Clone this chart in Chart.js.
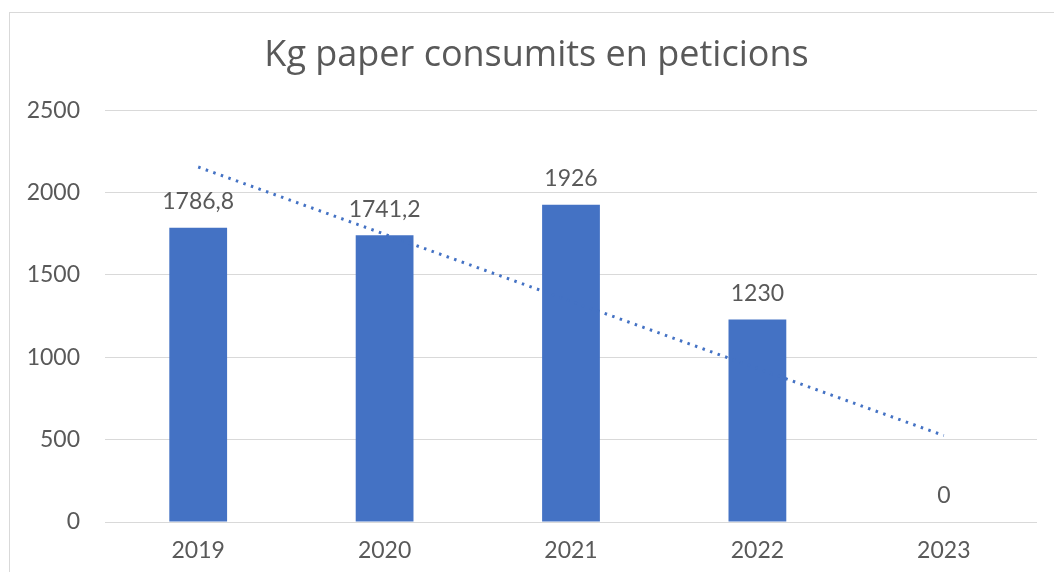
<!DOCTYPE html>
<html>
<head>
<meta charset="utf-8">
<script src="https://cdn.jsdelivr.net/npm/chart.js@4.4.1/dist/chart.umd.min.js"></script>
<style>
  html, body { margin: 0; padding: 0; background: #fff; }
  #wrap { position: relative; width: 1054px; height: 572px; overflow: hidden; }
  #frame { position: absolute; left: 9px; top: 12px; width: 1200px; height: 700px; border: 1px solid #d9d9d9; box-sizing: border-box; }
  canvas { position: absolute; left: 0; top: 0; }
</style>
</head>
<body>
<div id="wrap">
  <div id="frame"></div>
  <canvas id="c" width="1054" height="572"></canvas>
</div>
<script>
const titleText = "Kg paper consumits en peticions";
const years = ["2019", "2020", "2021", "2022", "2023"];
const kgPaper = [1786.8, 1741.2, 1926, 1230, 0];
const trendPoints = [2155, null, null, null, 525];
const yTicks = [0, 500, 1000, 1500, 2000, 2500];

const FONT = "Lato, 'Open Sans', sans-serif";
const TITLE_FONT = "'Open Sans', Lato, sans-serif";
const TEXT = "#595959";

const labelPlugin = {
  id: "barLabels",
  afterLayout(chart) {
    if (chart.titleBlock) {
      chart.titleBlock.left = 36;
      chart.titleBlock.width = chart.titleBlock.right - 36;
    }
  },
  afterDatasetsDraw(chart) {
    const ctx = chart.ctx;
    const meta = chart.getDatasetMeta(0);
    ctx.save();
    ctx.font = "23px " + FONT;
    ctx.fillStyle = TEXT;
    ctx.textAlign = "center";
    ctx.textBaseline = "middle";
    meta.data.forEach((bar, i) => {
      const txt = String(kgPaper[i]).replace(".", ",");
      ctx.fillText(txt, bar.x, bar.y - 26);
    });
    ctx.restore();
  }
};

new Chart(document.getElementById("c"), {
  type: "bar",
  data: {
    labels: years,
    datasets: [
      {
        data: kgPaper,
        backgroundColor: "#4472C4",
        barPercentage: 0.31,
        categoryPercentage: 1,
        order: 2
      },
      {
        type: "line",
        data: trendPoints,
        spanGaps: true,
        borderColor: "#4472C4",
        borderWidth: 3,
        borderDash: [2.5, 5.5],
        borderCapStyle: "butt",
        pointRadius: 0,
        fill: false,
        order: 1
      }
    ]
  },
  options: {
    responsive: false,
    animation: false,
    devicePixelRatio: 1,
    layout: { padding: { left: 0, right: 17, top: 0, bottom: 0 } },
    plugins: {
      legend: { display: false },
      tooltip: { enabled: false },
      title: {
        display: true,
        text: titleText,
        color: TEXT,
        font: { family: TITLE_FONT, size: 36, weight: "normal", lineHeight: 1.2 },
        padding: { top: 34, bottom: 33 }
      }
    },
    scales: {
      x: {
        grid: { display: false, drawTicks: false },
        border: { display: false },
        ticks: { color: TEXT, font: { family: FONT, size: 23 }, padding: 15 },
        afterFit(s) { s.height = 50; }
      },
      y: {
        min: 0,
        max: 2500,
        afterBuildTicks(s) { s.ticks = yTicks.map(v => ({ value: v })); },
        grid: { color: "#d9d9d9", lineWidth: 1, drawTicks: false },
        border: { display: false },
        ticks: { color: TEXT, font: { family: FONT, size: 23 }, padding: 25, callback: v => String(v) },
        afterFit(s) { s.width = 105; }
      }
    }
  },
  plugins: [labelPlugin]
});
</script>
</body>
</html>
